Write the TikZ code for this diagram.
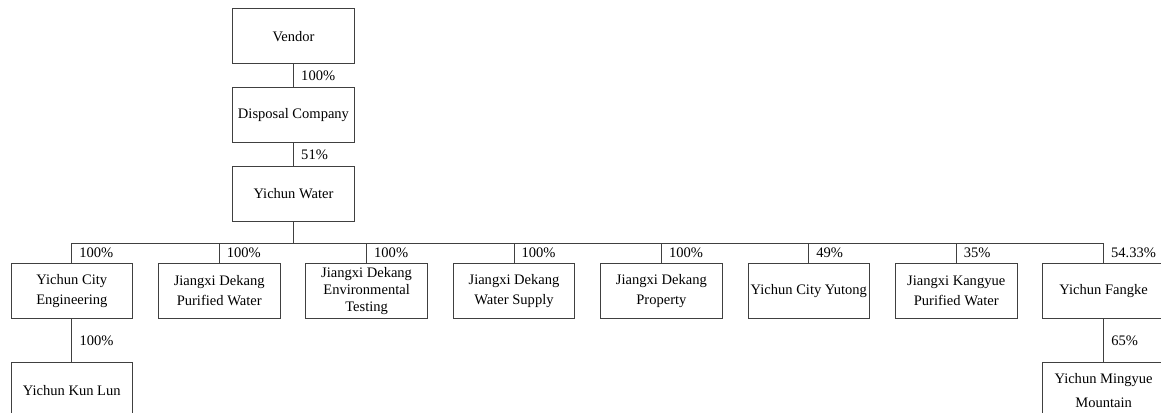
\documentclass[tikz,border=0pt]{standalone}
\usepackage{fontspec}
\setmainfont{Liberation Serif}
\usetikzlibrary{positioning}

\begin{document}
\begin{tikzpicture}[x=0.75pt, y=-0.75pt,
    node distance=17.3pt and 18.75pt,
    orgbox/.style={rectangle, draw=black!75, line width=0.6pt, minimum width=91.2pt, minimum height=41.25pt, inner sep=1pt, align=center, font=\fontsize{10.9}{15.2}\selectfont},
    pct/.style={anchor=west, inner sep=0pt, xshift=5.5pt, font=\fontsize{10.9}{13}\selectfont},
    link/.style={draw=black!75, line width=0.6pt},]
    \path[use as bounding box, clip] (0,0) rectangle (1161,413);
    %Top chain
    \node[orgbox] (vendor) at (293.5,36.2) {Vendor};
    \node[orgbox] (disposal) [below=of vendor] {Disposal Company};
    \node[orgbox] (water) [below=of disposal] {Yichun Water};
    \coordinate (bus) at (293.5,243.5);

    %Subsidiaries
    \node[orgbox] (engineering) at (71.8,290.8) {Yichun City\\Engineering};
    \node[orgbox] (purified) [right=of engineering] {Jiangxi Dekang\\Purified Water};
    \node[orgbox, font=\fontsize{10.9}{12.7}\selectfont] (testing) [right=of purified] {Jiangxi Dekang\\Environmental\\Testing};
    \node[orgbox] (supply) [right=of testing] {Jiangxi Dekang\\Water Supply};
    \node[orgbox] (property) [right=of supply] {Jiangxi Dekang\\Property};
    \node[orgbox] (yutong) [right=of property] {Yichun City Yutong};
    \node[orgbox] (kangyue) [right=of yutong] {Jiangxi Kangyue\\Purified Water};
    \node[orgbox] (fangke) [right=of kangyue] {Yichun Fangke};
    \node[orgbox] (kunlun) [below=32.6pt of engineering] {Yichun Kun Lun};
    \node[orgbox, font=\fontsize{10.9}{18}\selectfont] (mingyue) [below=32.6pt of fangke] {Yichun Mingyue\\Mountain};

    %Lines
    \draw[link] (vendor.south) -- node[pct] {100\%} (disposal.north);
    \draw[link] (disposal.south) -- node[pct] {51\%} (water.north);
    \draw[link] (water.south) -- (bus);
    \draw[link] (engineering.north) |- (bus) -| (fangke.north);
    \foreach \n in {purified,testing,supply,property,yutong,kangyue}
        \draw[link] (\n.north |- bus) -- (\n.north);
    \draw[link] (engineering.south) -- node[pct] {100\%} (kunlun.north);
    \draw[link] (fangke.south) -- node[pct] {65\%} (mingyue.north);

    % %Percentages
    \path (engineering.north |- bus) -- node[pct] {100\%} (engineering.north);
    \path (purified.north |- bus) -- node[pct] {100\%} (purified.north);
    \path (testing.north |- bus) -- node[pct] {100\%} (testing.north);
    \path (supply.north |- bus) -- node[pct] {100\%} (supply.north);
    \path (property.north |- bus) -- node[pct] {100\%} (property.north);
    \path (yutong.north |- bus) -- node[pct] {49\%} (yutong.north);
    \path (kangyue.north |- bus) -- node[pct] {35\%} (kangyue.north);
    \path (fangke.north |- bus) -- node[pct] {54.33\%} (fangke.north);
  \end{tikzpicture}
\end{document}
